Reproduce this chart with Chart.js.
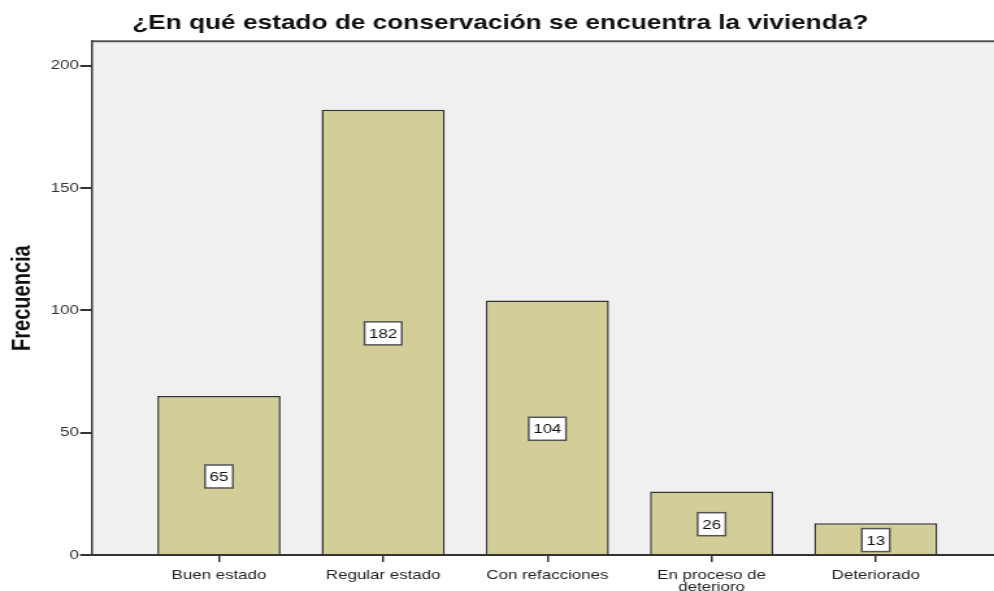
<!DOCTYPE html>
<html>
<head>
<meta charset="utf-8">
<script src="https://cdn.jsdelivr.net/npm/chart.js@4"></script>
<style>
  html, body { margin: 0; padding: 0; background: #fff; overflow: hidden; }
  /* the chart is laid out narrow and widened with a horizontal stretch */
  #wrap { width: 765px; height: 591px; transform: scaleX(1.29935); transform-origin: 0 0; }
</style>
</head>
<body>
<div id="wrap"><canvas id="estado_chart"></canvas></div>
<script>
const categorias = ["Buen estado", "Regular estado", "Con refacciones", ["En proceso de", "deterioro"], "Deteriorado"];
const frecuencias = [65, 182, 104, 26, 13];
const ticksY = [0, 50, 100, 150, 200];

const fuente = '"Liberation Sans", Arial, sans-serif';

// fondo gris del area de trazado y borde superior
const plotArea = {
    id: 'plotArea',
    beforeDraw(chart) {
        const { ctx, chartArea: a } = chart;
        ctx.save();
        ctx.fillStyle = '#f0f0f0';
        ctx.fillRect(a.left, a.top, a.right - a.left, a.bottom - a.top);
        ctx.restore();
    },
    afterDraw(chart) {
        const { ctx, chartArea: a } = chart;
        ctx.save();
        ctx.strokeStyle = '#555';
        ctx.lineWidth = 2;
        ctx.beginPath();
        ctx.moveTo(a.left, a.top);
        ctx.lineTo(a.right, a.top);
        ctx.stroke();
        ctx.restore();
    }
};

// etiqueta con el valor en el centro de cada barra
const valueBoxes = {
    id: 'valueBoxes',
    afterDatasetsDraw(chart) {
        const { ctx } = chart;
        const meta = chart.getDatasetMeta(0);
        ctx.save();
        ctx.font = '13px ' + fuente;
        ctx.textAlign = 'center';
        ctx.textBaseline = 'middle';
        meta.data.forEach((bar, i) => {
            const txt = String(frecuencias[i]);
            const cy = (bar.y + bar.base) / 2 + 1.5;
            const w = ctx.measureText(txt).width + 7;
            const h = 23;
            ctx.fillStyle = '#ffffff';
            ctx.fillRect(bar.x - w / 2, cy - h / 2, w, h);
            ctx.strokeStyle = '#555';
            ctx.lineWidth = 1.5;
            ctx.strokeRect(bar.x - w / 2, cy - h / 2, w, h);
            ctx.fillStyle = '#111';
            ctx.fillText(txt, bar.x, cy + 1);
        });
        ctx.restore();
    }
};

const ctx = document.getElementById("estado_chart").getContext("2d");
const estadoChart = new Chart(ctx, {
    type: 'bar',
    data: {
        datasets: [{
            label: 'Frecuencia',
            data: frecuencias.map((v, i) => ({ x: i, y: v })),
            backgroundColor: '#d3ce98',
            borderColor: '#333333',
            borderWidth: 1.5,
            categoryPercentage: 1,
            barPercentage: 0.75
        }]
    },
    options: {
        responsive: true,
        maintainAspectRatio: false,
        animation: false,
        layout: { padding: { top: 0, right: 0, left: 5, bottom: 0 } },
        plugins: {
            legend: { display: false },
            tooltip: { enabled: false },
            title: {
                display: true,
                text: '¿En qué estado de conservación se encuentra la vivienda?',
                color: '#111',
                font: { family: fuente, size: 20.2, weight: 'bold' },
                padding: { top: 11, bottom: 6 }
            }
        },
        scales: {
            x: {
                type: 'linear',
                min: -0.774,
                max: 4.72,
                offset: false,
                afterBuildTicks(scale) {
                    scale.ticks = categorias.map((_, i) => ({ value: i }));
                },
                afterFit(scale) {
                    scale.height = 36;
                },
                border: { display: true, color: '#333', width: 2 },
                grid: { drawOnChartArea: false, offset: false, tickLength: 7, color: '#333', lineWidth: 1.5 },
                ticks: {
                    color: '#222',
                    padding: 7,
                    maxRotation: 0,
                    autoSkip: false,
                    font: { family: fuente, size: 13, lineHeight: 0.95 },
                    callback: (v) => categorias[v]
                }
            },
            y: {
                min: 0,
                max: 210,
                afterBuildTicks(scale) {
                    scale.ticks = ticksY.map(v => ({ value: v }));
                },
                border: { display: true, color: '#333', width: 1.5 },
                grid: { drawOnChartArea: false, tickLength: 9, color: '#333', lineWidth: 2 },
                ticks: {
                    color: '#333',
                    padding: 1,
                    font: { family: fuente, size: 13 }
                },
                title: {
                    display: true,
                    text: 'Frecuencia',
                    color: '#111',
                    font: { family: fuente, size: 20, weight: 'bold' },
                    padding: { top: 0, bottom: 9 }
                }
            }
        }
    },
    plugins: [plotArea, valueBoxes]
});
</script>
</body>
</html>
